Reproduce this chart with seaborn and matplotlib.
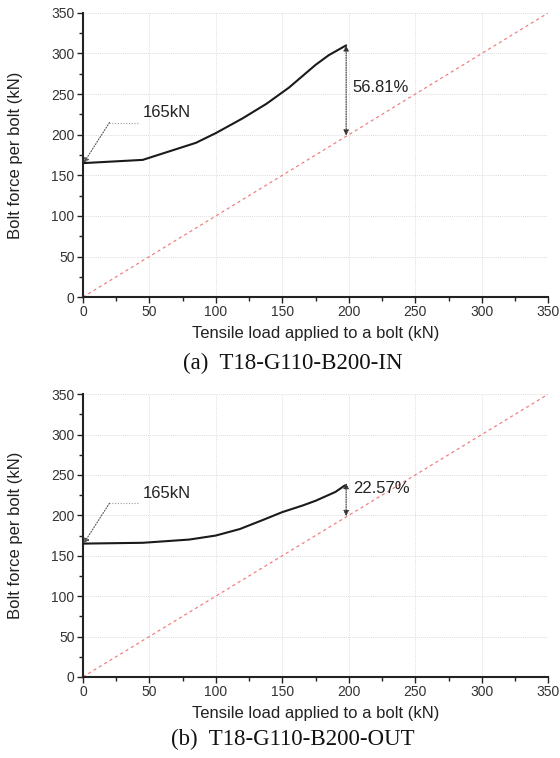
import matplotlib
matplotlib.use("Agg")
import matplotlib.pyplot as plt
import seaborn as sns
import numpy as np
import pandas as pd
from matplotlib.ticker import MultipleLocator

sns.set_theme(style="white")
plt.rcParams['font.family'] = ['Liberation Sans', 'DejaVu Sans']

# Panel (a) T18-G110-B200-IN
load_a = [0, 45, 85, 100, 120, 138, 155, 165, 175, 185, 198]
force_a = [165, 169, 190, 202, 220, 238, 258, 272, 286, 298, 310]
# Panel (b) T18-G110-B200-OUT
load_b = [0, 45, 80, 100, 118, 135, 150, 165, 175, 190, 197]
force_b = [165, 166, 170, 175, 183, 194, 204, 212, 218, 229, 237]

ref_line = [0, 350]
pct_a = "56.81%"
pct_b = "22.57%"
captions = ["(a)  T18-G110-B200-IN", "(b)  T18-G110-B200-OUT"]
init_label = "165kN"

fig = plt.figure(figsize=(5.6, 7.58), dpi=100)
ax1 = fig.add_axes([0.148, 0.608, 0.831, 0.375])
ax2 = fig.add_axes([0.148, 0.107, 0.831, 0.373])

panels = [
    (ax1, load_a, force_a, pct_a, 310, 258),
    (ax2, load_b, force_b, pct_b, 240, 233),
]

for i, (ax, xs, ys, pct, top, ty) in enumerate(panels):
    df = pd.DataFrame({"x": xs, "y": ys})
    dref = pd.DataFrame({"x": ref_line, "y": ref_line})
    sns.lineplot(data=dref, x="x", y="y", ax=ax, color="#f08080", lw=0.9,
                 linestyle=(0, (2.5, 2.5)))
    sns.lineplot(data=df, x="x", y="y", ax=ax, color="#1a1a1a", lw=1.5)
    ax.set_xlim(0, 350)
    ax.set_ylim(0, 350)
    ax.xaxis.set_major_locator(MultipleLocator(50))
    ax.xaxis.set_minor_locator(MultipleLocator(25))
    ax.yaxis.set_major_locator(MultipleLocator(50))
    ax.yaxis.set_minor_locator(MultipleLocator(25))
    ax.grid(True, which="major", color="#d0d0d0", lw=0.6, linestyle=(0, (1, 1.5)))
    for s in ["top", "right"]:
        ax.spines[s].set_visible(False)
    for s in ["left", "bottom"]:
        ax.spines[s].set_color("#222222")
        ax.spines[s].set_linewidth(1.5)
    ax.tick_params(which="major", direction="out", length=4, width=1, color="#222222",
                   labelsize=10, labelcolor="#333333", pad=2, bottom=True, left=True)
    ax.tick_params(which="minor", direction="out", length=3, width=1, color="#222222",
                   bottom=True, left=True)
    ax.set_xlabel("Tensile load applied to a bolt (kN)", fontsize=12, color="#222222", labelpad=5)
    ax.set_ylabel("Bolt force per bolt (kN)", fontsize=12, color="#222222")
    ax.yaxis.set_label_coords(-0.128, 0.5)

    # 165kN leader
    ax.plot([20, 42], [215, 215], color="#999999", lw=0.8, linestyle=(0, (1, 1.5)))
    ax.annotate("", xy=(0.5, 165), xytext=(20, 215),
                arrowprops=dict(arrowstyle="-|>", color="#555555", lw=0.8,
                                linestyle=(0, (1, 1.5)), mutation_scale=8,
                                shrinkA=0, shrinkB=0))
    ax.text(45, 227, init_label, fontsize=12, color="#222222", va="center", ha="left")

    # percent arrow
    ax.annotate("", xy=(198, top), xytext=(198, 199),
                arrowprops=dict(arrowstyle="<|-|>", color="#333333", lw=0.8,
                                linestyle=(0, (1, 1.2)), mutation_scale=8,
                                shrinkA=0, shrinkB=0))
    ax.text(203, ty, pct, fontsize=12, color="#222222", va="center", ha="left")

fig.text(0.523, 0.521, captions[0], fontsize=16.5, family=["Liberation Serif"], ha="center", va="center", color="#111111")
fig.text(0.523, 0.024, captions[1], fontsize=16.5, family=["Liberation Serif"], ha="center", va="center", color="#111111")

fig.savefig("out.png", dpi=100)
